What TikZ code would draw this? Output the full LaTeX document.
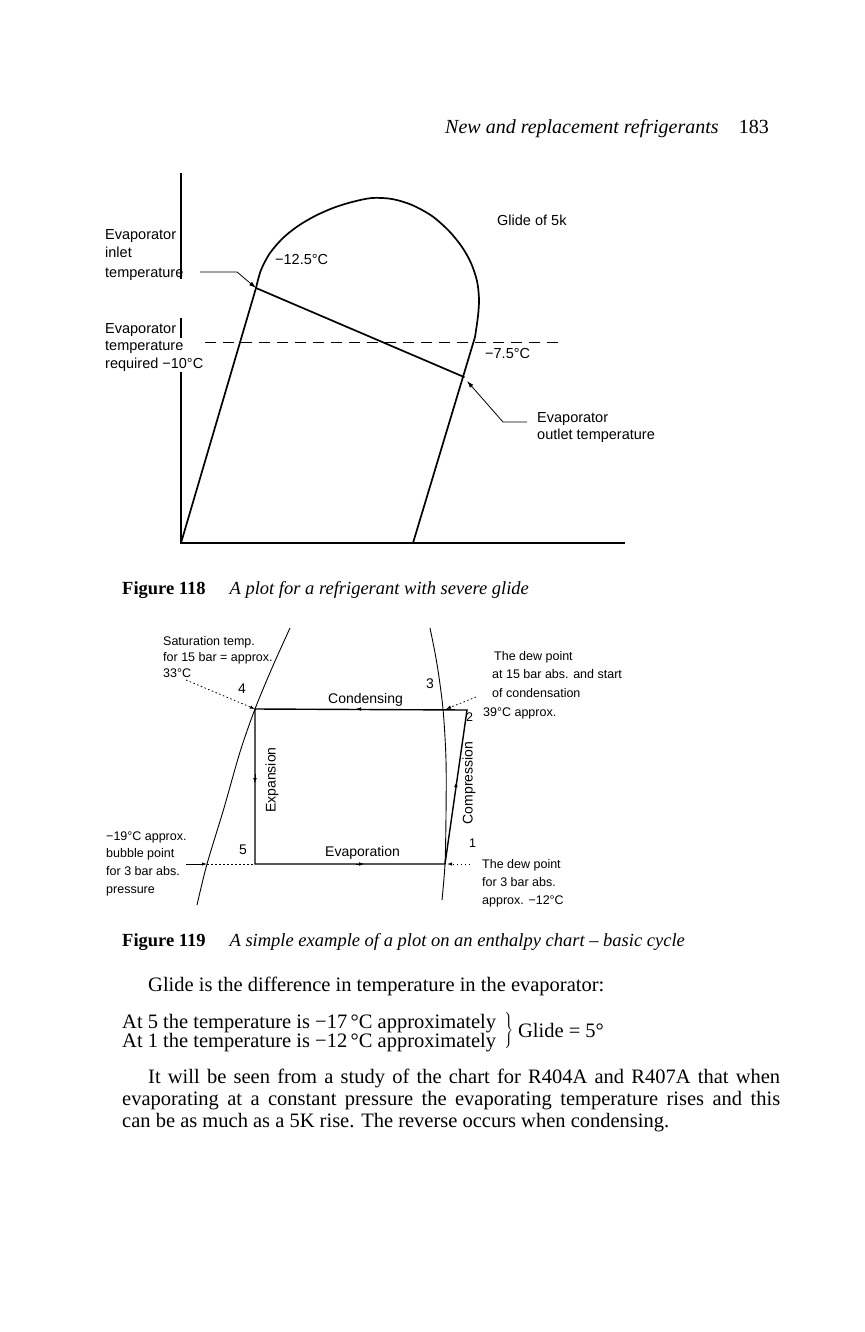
\documentclass[tikz,border=0pt]{standalone}
\usepackage{fontspec}
\setmainfont{Liberation Serif}
\newfontfamily\lsans{Liberation Sans}
\usetikzlibrary{arrows.meta}
\begin{document}
\begin{tikzpicture}[x=1pt,y=-1pt,
  curvethick/.style={line width=1.7pt, line join=round, line cap=round},
  axisline/.style={line width=1.2pt},
  thincurve/.style={line width=0.9pt},
  boxline/.style={line width=1.4pt, line join=miter},
  leader/.style={line width=0.8pt},
  dotleader/.style={line width=0.8pt, dash pattern=on 1.5pt off 2.5pt},
  bigtip/.style={-{Latex[length=7pt,width=4.5pt]}},
  smalltip/.style={-{Latex[length=5pt,width=3.5pt]}},
  lab/.style={font=\lsans\fontsize{14.5}{17}\selectfont, inner sep=0pt, anchor=base west},
  sm/.style={font=\lsans\fontsize{12.5}{15}\selectfont, inner sep=0pt, anchor=base west},
  proc/.style={font=\lsans\fontsize{14}{17}\selectfont, inner sep=0pt},
  body/.style={font=\fontsize{20.5}{22}\selectfont, inner sep=0pt},
  figcap/.style={font=\fontsize{18.5}{22}\selectfont, inner sep=0pt, anchor=base west},
]
\useasboundingbox[fill=white] (0,0) rectangle (864,1332);

% header
\node[anchor=base west, inner sep=0pt, font=\itshape\fontsize{20}{24}\selectfont] (hdr) at (445,134) {New and replacement refrigerants};
\node[anchor=base east, inner sep=0pt, font=\fontsize{20}{24}\selectfont] (pg) at (769,134) {183};

% ---------------- Figure 118 ----------------
\coordinate (O) at (181,543);
\coordinate (axEnd) at (625,543);
\coordinate (inl) at (256,288);
\coordinate (outl) at (464,377);
\coordinate (rbot) at (413,543);
\draw[axisline] (181,173) -- (181,279) (181,318) -- (181,338) (181,372) -- (O) -- (axEnd);
\draw[curvethick] (O) -- (inl) -- plot[smooth] coordinates {(256,288) (261,270) (270,253) (283,238) (298,226) (315,216) (333,208) (352,202) (372,198) (392,199) (412,205) (432,216) (449,231) (462,247) (471,263) (477,281) (479,299) (478,316) (475,337)} -- (rbot);
\draw[curvethick] (inl) -- (outl);
\draw[line width=1pt, dash pattern=on 11pt off 7pt] (205,342) -- (560,342);
\draw[leader, bigtip] (200,272) -- (237,272) -- (inl);
\draw[leader, bigtip] (527,422) -- (503,422) -- (467,381);

\node[lab] (l1a) at (105,240) {Evaporator};
\node[lab] (l1b) at (105,258) {inlet};
\node[lab] (l1c) at (105,277) {temperature};
\node[lab] (l2a) at (105,333) {Evaporator};
\node[lab] (l2b) at (105,350) {temperature};
\node[lab] (l2c) at (105,368) {required −10°C};
\node[lab] (t125) at (275,264) {−12.5°C};
\node[lab] (glide5) at (497,226) {Glide of 5k};
\node[lab] (t75) at (485,358) {−7.5°C};
\node[lab] (o1) at (537,422) {Evaporator};
\node[lab] (o2) at (537,439) {outlet temperature};

\node[figcap] (cap1) at (122,594) {\textbf{Figure 118}\hspace{24pt}\textit{A plot for a refrigerant with severe glide}};

% ---------------- Figure 119 ----------------
\coordinate (p4) at (255,709);
\coordinate (p2) at (467,710);
\coordinate (p1) at (445,864);
\coordinate (p5) at (255,864);
\coordinate (bub) at (207,864);
\draw[thincurve] plot[smooth] coordinates {(290,628) (272,668) (255,709) (240,752) (224,808) (207,864) (197,905)};
\draw[thincurve] plot[smooth] coordinates {(430,628) (437,664) (443,709) (446,760) (446,815) (445,864) (442,900)};
\draw[boxline] (p4) -- (p2) -- (p1) -- (p5) -- cycle;
% flow marks
\draw[smalltip] (364,709) -- (356,709);
\draw[smalltip] (255,774) -- (255,783);
\draw[smalltip] (356,864) -- (364,864);
\draw[smalltip] (455.2,792) -- (456.6,782);
% leaders
\draw[dotleader, smalltip] (186,680) -- (p4);
\draw[leader, smalltip] (186,864) -- (bub);
\draw[dotleader] (bub) -- (p5);
\draw[dotleader, smalltip] (476,697) -- (446,709);
\draw[dotleader, smalltip] (470,864) -- (447,864);

\node[sm] (s1) at (163,645) {Saturation temp.};
\node[sm] (s2) at (163,661) {for 15 bar = approx.};
\node[sm] (s3) at (163,677) {33°C};
\node[proc, anchor=base west] (n4) at (238,693) {4};
\node[proc, anchor=base west] (n3) at (426,688) {3};
\node[sm] (n2) at (466,721) {2};
\node[proc, anchor=base west] (n5) at (239,854) {5};
\node[sm] (n1) at (469,847) {1};
\node[proc, anchor=base west] (cond) at (328,703) {Condensing};
\node[proc, anchor=base west] (evap) at (325,856) {Evaporation};
\node[proc, rotate=90] (expn) at (272,780) {Expansion};
\node[proc, rotate=90] (comp) at (469,783) {Compression};
\node[sm] (d1) at (494,660) {The dew point};
\node[sm] (d2) at (492,678) {at 15 bar abs. and start};
\node[sm] (d3) at (492,697) {of condensation};
\node[sm] (d4) at (483,716) {39°C approx.};
\node[sm] (e1) at (482,868) {The dew point};
\node[sm] (e2) at (482,886) {for 3 bar abs.};
\node[sm] (e3) at (482,904) {approx. −12°C};
\node[sm] (b1) at (106,840) {−19°C approx.};
\node[sm] (b2) at (106,857) {bubble point};
\node[sm] (b3) at (106,875) {for 3 bar abs.};
\node[sm] (b4) at (106,893) {pressure};

\node[figcap] (cap2) at (122,946) {\textbf{Figure 119}\hspace{24pt}\textit{A simple example of a plot on an enthalpy chart – basic cycle}};

% ---------------- text ----------------
\node[body, anchor=base west] (t1) at (148,991) {Glide is the difference in temperature in the evaporator:};
\node[inner sep=0pt, anchor=base west, font=\fontsize{20.5}{18}\selectfont] (t2) at (122,1028) {\begin{tabular}[t]{@{}l@{}}At 5 the temperature is −17\,°C approximately\\At 1 the temperature is −12\,°C approximately\end{tabular}\hspace{7pt}\raisebox{-7.6pt}{$\left.\vrule height 23pt depth 13pt width 0pt\right\}$}\hspace{5pt}\raisebox{-9.5pt}{Glide = 5°}};
\node[body, anchor=north west, text width=658pt, align=justify] (t3) at (122,1069) {\hspace*{26pt}It will be seen from a study of the chart for R404A and R407A that when\linebreak evaporating at a constant pressure the evaporating temperature rises and this\linebreak can be as much as a 5K rise. The reverse occurs when condensing.};
\end{tikzpicture}
\end{document}
